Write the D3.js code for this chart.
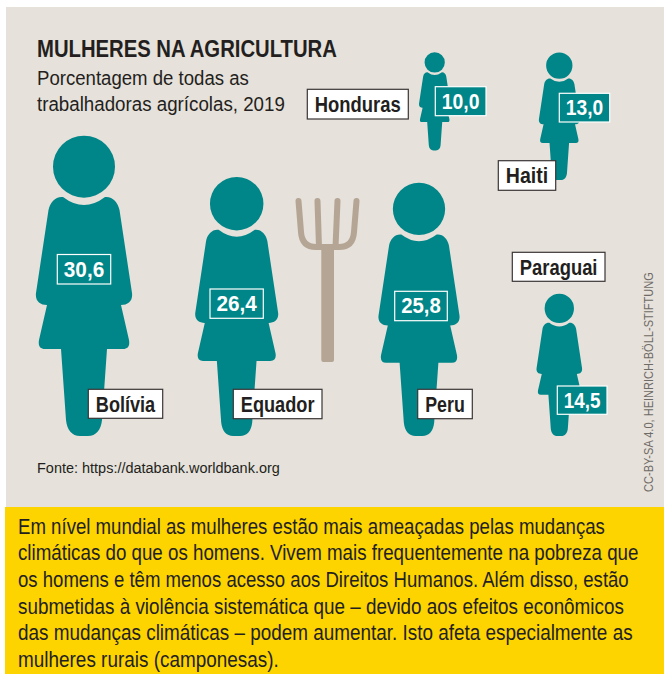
<!DOCTYPE html>
<html>
<head>
<meta charset="utf-8">
<script src="https://cdn.jsdelivr.net/npm/d3@7"></script>
<style>
  html, body { margin: 0; padding: 0; background: #fff; }
  svg { display: block; }
  text { font-family: "Liberation Sans", sans-serif; }
</style>
</head>
<body>
<svg width="664" height="674"></svg>
<script>
const countries = ['Bolívia', 'Equador', 'Peru', 'Paraguai', 'Honduras', 'Haiti'];
const shares = [30.6, 26.4, 25.8, 14.5, 10.0, 13.0];

const titleText = 'MULHERES NA AGRICULTURA';
const subtitleLines = ['Porcentagem de todas as', 'trabalhadoras agrícolas, 2019'];
const sourceText = 'Fonte: https://databank.worldbank.org';
const creditText = 'CC-BY-SA 4.0, HEINRICH-BÖLL-STIFTUNG';
const noteLines = [
  'Em nível mundial as mulheres estão mais ameaçadas pelas mudanças',
  'climáticas do que os homens. Vivem mais frequentemente na pobreza que',
  'os homens e têm menos acesso aos Direitos Humanos. Além disso, estão',
  'submetidas à violência sistemática que – devido aos efeitos econômicos',
  'das mudanças climáticas – podem aumentar. Isto afeta especialmente as',
  'mulheres rurais (camponesas).'
];
const noteWidths = [587, 621, 611, 606, 615, 261];

// layout per country, same order as countries
const figureX = [84, 236.7, 419, 559.3, 434.7, 559.3];
const figureBase = [436, 436, 436, 436, 150.5, 180];
const valueBoxes = [[57.3, 254.5, 53.4, 29.5], [210, 289, 53.3, 29.3], [394.7, 291.3, 52.6, 29.4], [557.3, 386, 49.7, 28.3], [435.3, 86.7, 50.7, 29], [559.3, 93.3, 50.4, 28.7]];
const nameBoxes = [[88.3, 389.3, 74.4, 29], [233.3, 389.3, 88.7, 29.4], [417.7, 389.3, 54.6, 29.4], [512.3, 252.3, 92.7, 29], [307.3, 89.3, 101, 29.7], [498.3, 160.7, 57.4, 29.6]];

const teal = '#008688';
const ink = '#231f20';
const forkColor = '#b5a595';

const svg = d3.select('svg');

svg.append('rect').attr('x', 6).attr('y', 7).attr('width', 658).attr('height', 500).attr('fill', '#e6e1da');
svg.append('rect').attr('x', 5).attr('y', 507).attr('width', 659).attr('height', 167).attr('fill', '#fdd300');

// figure height is the value
const heightScale = d3.scaleLinear().domain([0, 30.6]).range([0, 300]);

// woman pictogram, drawn 300 high with x=0 in the middle and y=0 at the head top
function womanPath() {
  const p = d3.path();
  p.moveTo(31, 30.7);
  p.arc(0, 30.7, 31, 0, Math.PI * 2);
  p.closePath();
  p.moveTo(-21, 61);
  p.quadraticCurveTo(0, 77, 21, 61);
  p.bezierCurveTo(28, 60, 34, 66, 35.5, 74);
  p.lineTo(48, 157);
  p.bezierCurveTo(49, 165, 44, 169, 37, 169);
  p.lineTo(45, 204);
  p.bezierCurveTo(46, 210, 44, 213, 39, 213);
  p.lineTo(23, 213);
  p.lineTo(18, 284);
  p.bezierCurveTo(17, 294, 12, 300, 4, 300);
  p.lineTo(-4, 300);
  p.bezierCurveTo(-12, 300, -17, 294, -18, 284);
  p.lineTo(-23, 213);
  p.lineTo(-39, 213);
  p.bezierCurveTo(-44, 213, -46, 210, -45, 204);
  p.lineTo(-37, 169);
  p.bezierCurveTo(-44, 169, -49, 165, -48, 157);
  p.lineTo(-35.5, 74);
  p.bezierCurveTo(-34, 66, -28, 60, -21, 61);
  p.closePath();
  return p.toString();
}

const rows = countries.map((c, i) => ({
  name: c, value: shares[i], x: figureX[i], base: figureBase[i],
  valueBox: valueBoxes[i], nameBox: nameBoxes[i]
}));

svg.selectAll('.woman')
  .data(rows)
  .enter()
  .append('path')
  .attr('class', 'woman')
  .attr('fill', teal)
  .attr('d', womanPath())
  .attr('transform', d => {
    const h = heightScale(d.value);
    return `translate(${d.x},${d.base - h}) scale(${h / 300})`;
  });

// pitchfork
svg.append('path')
  .attr('fill', 'none').attr('stroke', forkColor)
  .attr('stroke-linecap', 'round').attr('stroke-width', 6)
  .attr('d', 'M298.5 201 L301 232 Q302 247 316 247 L339 247 Q353 247 354 232 L356.5 201 M317.5 201 L319 247 M337.5 201 L335.5 247');
svg.append('rect')
  .attr('x', 321.3).attr('y', 246).attr('width', 12.7).attr('height', 116).attr('rx', 2)
  .attr('fill', forkColor);

// no condensed font is installed, so squeeze the text sideways to the measured width
function squeeze(sel, transform, width) {
  const k = width / sel.node().getComputedTextLength();
  sel.attr('transform', `${transform} scale(${k},1)`);
  return sel;
}

function fitted(x, y, size, width, str, weight, anchor, fill) {
  const t = svg.append('text')
    .attr('font-size', size).attr('font-weight', weight || 400)
    .attr('text-anchor', anchor || 'start').attr('fill', fill || ink)
    .text(str);
  return squeeze(t, `translate(${x},${y})`, width);
}

// value labels
rows.forEach(d => {
  const b = d.valueBox;
  svg.append('rect')
    .attr('x', b[0]).attr('y', b[1]).attr('width', b[2]).attr('height', b[3])
    .attr('fill', teal).attr('stroke', '#fff').attr('stroke-width', 1.2);
  fitted(b[0] + b[2] / 2, b[1] + 22, 22, b[2] - 13, d.value.toFixed(1).replace('.', ','), 700, 'middle', '#fff');
});

// country labels
rows.forEach(d => {
  const b = d.nameBox;
  svg.append('rect')
    .attr('x', b[0]).attr('y', b[1]).attr('width', b[2]).attr('height', b[3])
    .attr('fill', '#fff').attr('stroke', '#3a3536').attr('stroke-width', 1.2);
  fitted(b[0] + b[2] / 2, b[1] + 22.4, 22, b[2] - 15, d.name, 700, 'middle');
});

fitted(37, 57, 24, 300, titleText, 700);
fitted(37, 85, 21, 212, subtitleLines[0]);
fitted(37, 111, 21, 248, subtitleLines[1]);
fitted(37, 473, 15.5, 243, sourceText);

noteLines.forEach((line, i) => {
  fitted(18, 533.5 + i * 26.7, 21.5, noteWidths[i], line);
});

const credit = svg.append('text')
  .attr('font-size', 13.5).attr('fill', '#6f6b68')
  .text(creditText);
squeeze(credit, 'translate(652.5,492) rotate(-90)', 220);
</script>
</body>
</html>
